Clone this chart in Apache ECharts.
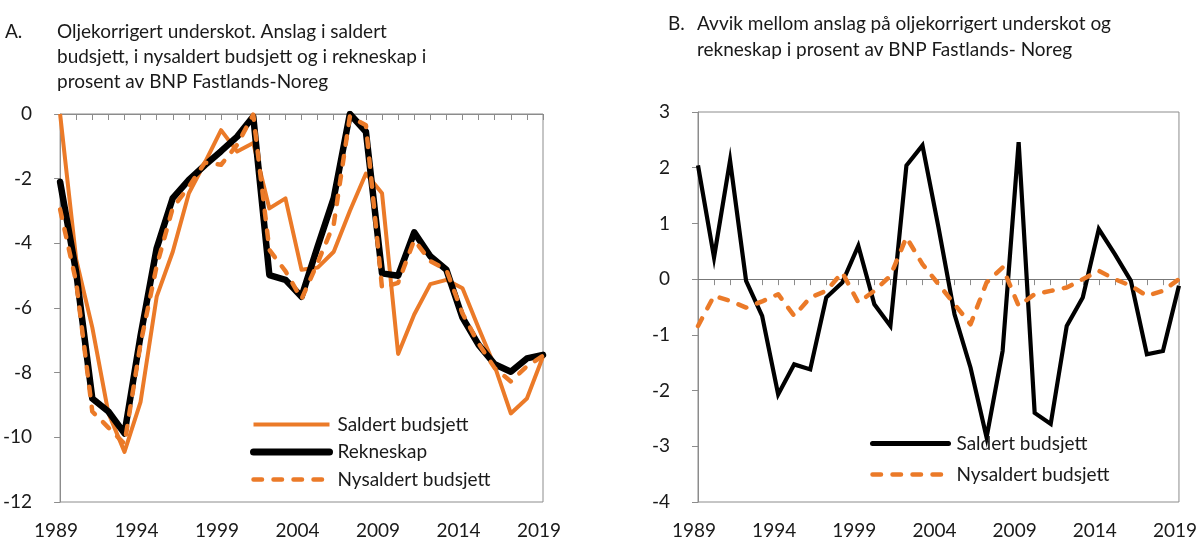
<!DOCTYPE html>
<html>
<head>
<meta charset="utf-8">
<script src="https://cdn.jsdelivr.net/npm/echarts@6/dist/echarts.min.js"></script>
<style>
html,body{margin:0;padding:0;background:#fff;}
#wrap{position:relative;width:1200px;height:558px;}
#a{position:absolute;left:0;top:0;width:600px;height:558px;}
#b{position:absolute;left:600px;top:0;width:600px;height:558px;}
</style>
</head>
<body>
<div id="wrap"><div id="a"></div><div id="b"></div></div>
<script>
const years = [];
for (let y = 1989; y <= 2019; y++) years.push(String(y));

// Panel A: oljekorrigert underskot, prosent av BNP Fastlands-Noreg
const saldert = [0, -4.5, -6.6, -9.25, -10.45, -8.9, -5.65, -4.26, -2.45, -1.5, -0.5, -1.16, -0.9, -2.92, -2.61, -4.82, -4.75, -4.26, -3.0, -1.84, -2.45, -7.42, -6.2, -5.26, -5.13, -5.39, -6.62, -7.8, -9.26, -8.8, -7.5];
const rekneskap = [-2.1, -4.9, -8.8, -9.2, -9.88, -6.85, -4.15, -2.6, -2.04, -1.58, -1.15, -0.7, -0.08, -4.98, -5.13, -5.65, -4.1, -2.6, 0, -0.55, -4.93, -5.0, -3.66, -4.4, -4.82, -6.3, -7.14, -7.74, -7.97, -7.56, -7.45];
const nysaldert = [-2.95, -5.2, -9.2, -9.7, -10.2, -7.1, -4.7, -2.9, -2.25, -1.5, -1.57, -0.95, -0.02, -4.2, -4.86, -5.72, -4.6, -3.41, -0.08, -0.35, -5.38, -5.22, -3.9, -4.55, -4.82, -6.17, -7.1, -7.86, -8.27, -7.8, -7.48];

// Panel B: avvik
const avvikSaldert = [2.04, 0.39, 2.13, -0.03, -0.66, -2.07, -1.53, -1.62, -0.33, -0.06, 0.6, -0.45, -0.84, 2.04, 2.4, 0.93, -0.63, -1.59, -2.84, -1.29, 2.46, -2.4, -2.6, -0.84, -0.33, 0.9, 0.45, -0.03, -1.35, -1.29, -0.12];
const avvikNysaldert = [-0.84, -0.3, -0.39, -0.51, -0.4, -0.27, -0.66, -0.33, -0.21, 0.12, -0.42, -0.21, 0.06, 0.75, 0.27, -0.09, -0.45, -0.81, -0.06, 0.21, -0.48, -0.27, -0.21, -0.15, 0, 0.15, 0, -0.12, -0.3, -0.21, 0];

const FONT = 'Lato';
const ORANGE = '#EB7A28';
const AXIS = '#8c8c8c';
const DASH = [8.5, 11.5];
const txt = {fontFamily: FONT, fontSize: 19, color: '#1a1a1a'};
const titleStyle = {fontFamily: FONT, fontSize: 19, fontWeight: 'normal', color: '#1a1a1a'};

function xAxisCfg() {
  return {
    type: 'category', data: years, boundaryGap: false,
    axisLine: {lineStyle: {color: AXIS, width: 1}},
    axisTick: {show: true, interval: 0, length: 6, lineStyle: {color: AXIS}},
    axisLabel: Object.assign({interval: 4, margin: 19, padding: [0, 8, 0, 0]}, txt),
    splitLine: {show: false}
  };
}
function yAxisCfg(min, max, step) {
  return {
    type: 'value', min: min, max: max, interval: step,
    axisLine: {show: true, lineStyle: {color: AXIS, width: 1}},
    axisTick: {show: true, length: 6, lineStyle: {color: AXIS}},
    axisLabel: Object.assign({margin: 28}, txt),
    splitLine: {show: false}
  };
}
const hiddenSymbol = {opacity: 0};

const chartA = echarts.init(document.getElementById('a'), null, {renderer: 'canvas'});
chartA.setOption({
  animation: false,
  title: [
    {text: 'A.', left: 5, top: 19, padding: 0, textStyle: Object.assign({lineHeight: 25}, titleStyle)},
    {text: 'Oljekorrigert underskot. Anslag i saldert\nbudsjett, i nysaldert budsjett og i rekneskap i\nprosent av BNP Fastlands-Noreg',
     left: 57, top: 19, padding: 0, textStyle: Object.assign({lineHeight: 25}, titleStyle)}
  ],
  grid: {left: 57, right: 57, top: 114, bottom: 56, show: true, borderColor: AXIS, borderWidth: 1},
  xAxis: xAxisCfg(),
  yAxis: yAxisCfg(-12, 0, 2),
  legend: {
    orient: 'vertical', left: 250, top: 415, padding: 0, itemWidth: 76, itemHeight: 14, itemGap: 8.5,
    textStyle: Object.assign({padding: [0, 0, 0, 3]}, txt),
    itemStyle: hiddenSymbol,
    data: [
      {name: 'Saldert budsjett', itemStyle: hiddenSymbol, lineStyle: {color: ORANGE, width: 4}},
      {name: 'Rekneskap', itemStyle: hiddenSymbol, lineStyle: {color: '#000', width: 7, cap: 'round'}},
      {name: 'Nysaldert budsjett', itemStyle: hiddenSymbol, lineStyle: {color: ORANGE, width: 4.5, type: DASH, cap: 'round'}}
    ]
  },
  series: [
    {name: 'Saldert budsjett', type: 'line', data: saldert, symbol: 'none', z: 2,
     lineStyle: {color: ORANGE, width: 4, join: 'round'}, itemStyle: {color: ORANGE}},
    {name: 'Rekneskap', type: 'line', data: rekneskap, symbol: 'none', z: 3,
     lineStyle: {color: '#000', width: 6.5, join: 'round', cap: 'round'}, itemStyle: {color: '#000'}},
    {name: 'Nysaldert budsjett', type: 'line', data: nysaldert, symbol: 'none', z: 4,
     lineStyle: {color: ORANGE, width: 4.5, type: DASH, cap: 'round', join: 'round'}, itemStyle: {color: ORANGE}}
  ]
});

const chartB = echarts.init(document.getElementById('b'), null, {renderer: 'canvas'});
chartB.setOption({
  animation: false,
  title: [
    {text: 'B.', left: 68, top: 11, padding: 0, textStyle: Object.assign({lineHeight: 26}, titleStyle)},
    {text: 'Avvik mellom anslag på oljekorrigert underskot og\nrekneskap i prosent av BNP Fastlands- Noreg',
     left: 97, top: 11, padding: 0, textStyle: Object.assign({lineHeight: 26}, titleStyle)}
  ],
  grid: {left: 98, right: 17, top: 112, bottom: 56, show: true, borderColor: AXIS, borderWidth: 1},
  xAxis: xAxisCfg(),
  yAxis: yAxisCfg(-4, 3, 1),
  legend: {
    orient: 'vertical', left: 270, top: 434, padding: 0, itemWidth: 76, itemHeight: 14, itemGap: 12,
    textStyle: Object.assign({padding: [0, 0, 0, 3]}, txt),
    itemStyle: hiddenSymbol,
    data: [
      {name: 'Saldert budsjett', itemStyle: hiddenSymbol, lineStyle: {color: '#000', width: 5, cap: 'round'}},
      {name: 'Nysaldert budsjett', itemStyle: hiddenSymbol, lineStyle: {color: ORANGE, width: 4.5, type: DASH, cap: 'round'}}
    ]
  },
  series: [
    {name: 'Saldert budsjett', type: 'line', data: avvikSaldert, symbol: 'none', z: 3,
     lineStyle: {color: '#000', width: 4.2, join: 'miter'}, itemStyle: {color: '#000'},
     markLine: {silent: true, symbol: 'none', label: {show: false}, z: 1,
       lineStyle: {color: '#777', width: 1, type: 'solid'}, data: [{yAxis: 0}]}},
    {name: 'Nysaldert budsjett', type: 'line', data: avvikNysaldert, symbol: 'none', z: 4,
     lineStyle: {color: ORANGE, width: 4.5, type: DASH, cap: 'round', join: 'round'}, itemStyle: {color: ORANGE}}
  ]
});
</script>
</body>
</html>
